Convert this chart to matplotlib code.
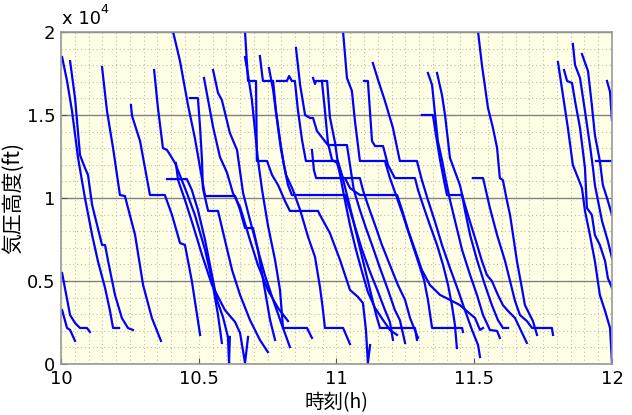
import matplotlib
matplotlib.use('Agg')
import matplotlib.pyplot as plt
from matplotlib.ticker import MultipleLocator

plt.rcParams['font.family'] = ['Noto Sans CJK JP', 'DejaVu Sans']

# descent profiles, time in hours, pressure altitude in ft
t_a1 = [10.004, 10.022, 10.040, 10.062, 10.087, 10.113, 10.134, 10.160, 10.178, 10.189, 10.211]
alt_a1 = [18490, 17050, 15240, 12410, 10000, 7770, 6200, 4580, 3190, 2170, 2170]
t_a2 = [10.033, 10.051, 10.069, 10.087, 10.098, 10.113, 10.149, 10.160, 10.171, 10.196, 10.221, 10.243, 10.261]
alt_a2 = [18250, 16020, 12590, 11810, 11390, 9580, 7170, 7170, 6200, 4160, 2770, 2170, 2050]
t_a3 = [10.149, 10.167, 10.189, 10.214, 10.232, 10.269, 10.298, 10.330, 10.363]
alt_a3 = [17890, 15240, 13010, 10180, 10120, 7770, 4760, 2770, 1390]
t_a4 = [10.254, 10.258, 10.287, 10.323, 10.377, 10.403, 10.432, 10.450, 10.475, 10.505]
alt_a4 = [15600, 14940, 13430, 10180, 10180, 8980, 7290, 7170, 5000, 1750]
t_a5 = [10.004, 10.033, 10.051, 10.069, 10.094, 10.105]
alt_a5 = [5480, 2950, 2470, 2170, 2170, 1930]
t_a6 = [10.004, 10.022, 10.033, 10.051]
alt_a6 = [3250, 2170, 2050, 1390]
t_a7 = [10.338, 10.352, 10.370, 10.385, 10.414, 10.457, 10.486, 10.523, 10.548, 10.570, 10.584]
alt_a7 = [17710, 15420, 13010, 12890, 12110, 10300, 8980, 6870, 5060, 2950, 1270]
t_a8 = [10.407, 10.432, 10.461, 10.486, 10.505, 10.523, 10.632, 10.650, 10.668, 10.697, 10.715, 10.740, 10.759, 10.777]
alt_a8 = [20000, 18250, 15600, 13610, 11810, 10120, 10120, 9280, 8190, 8190, 6870, 4460, 2650, 1450]
t_a9 = [10.468, 10.497, 10.505, 10.512, 10.515, 10.534, 10.570, 10.595, 10.621, 10.650, 10.686, 10.722, 10.751]
alt_a9 = [16020, 16020, 14220, 12230, 10600, 9220, 9220, 7470, 5660, 4160, 2650, 1450, 720]
t_a10 = [10.519, 10.534, 10.552, 10.577, 10.603, 10.624, 10.650, 10.686, 10.715, 10.751, 10.788, 10.824]
alt_a10 = [17230, 15900, 14280, 12470, 11510, 10300, 9460, 7470, 5960, 4460, 3370, 2590]
t_a11 = [10.552, 10.570, 10.584, 10.613, 10.639, 10.661, 10.686, 10.715, 10.740, 10.770, 10.802, 10.831]
alt_a11 = [17710, 16330, 15900, 13920, 12890, 10300, 8670, 6870, 5360, 3860, 2350, 1020]
t_a12 = [10.417, 10.425, 10.450, 10.479, 10.512, 10.548, 10.595, 10.632, 10.650, 10.668, 10.679]
alt_a12 = [12110, 11080, 9880, 8370, 6570, 4760, 3250, 2530, 1870, 60, 1630]
t_a13 = [10.385, 10.457, 10.475, 10.497, 10.523, 10.548, 10.566, 10.588, 10.606, 10.610, 10.613]
alt_a13 = [11140, 11140, 10480, 9280, 7470, 5360, 3860, 2830, 1630, 60, 1630]

t_b1 = [10.668, 10.679, 10.708, 10.711, 10.748, 10.766, 10.788, 10.813, 10.831, 10.933, 10.940, 10.976,
        11.013, 11.049, 11.078, 11.096, 11.107, 11.114, 11.122]
alt_b1 = [20000, 17050, 17050, 12230, 12230, 11390, 10780, 9820, 9220, 9220, 8980, 7890,
          6260, 4460, 4040, 3670, 2050, 60, 1140]
t_b2 = [10.668, 10.679, 10.693, 10.704, 10.715, 10.730, 10.751, 10.777, 10.795, 10.806, 10.893, 10.911]
alt_b2 = [18490, 17410, 15900, 14100, 12290, 10480, 8370, 6270, 4460, 2170, 2170, 1570]
t_b3 = [10.722, 10.733, 10.770, 10.780, 10.795, 10.809, 10.824, 10.838, 11.031, 11.049, 11.071, 11.093,
        11.122, 11.151, 11.176, 11.194, 11.205]
alt_b3 = [18550, 17050, 17050, 15300, 13490, 11990, 10780, 10180, 10180, 9280, 8070, 6870,
          5540, 4340, 3250, 2530, 1450]
t_b4 = [10.755, 10.770, 10.784, 10.799, 10.817, 10.842, 10.868, 10.897, 10.922, 10.940, 10.951, 10.958,
        11.024, 11.049]
alt_b4 = [17830, 16510, 14700, 12890, 11390, 10480, 9280, 7650, 6450, 4640, 3250, 2170, 2170, 1200]
t_b5 = [10.784, 10.820, 10.828, 10.838, 10.849, 10.860, 10.875, 10.889, 11.005, 11.020, 11.038, 11.056,
        11.078, 11.100, 11.122, 11.144, 11.158, 11.285, 11.292]
alt_b5 = [17050, 17050, 17350, 17050, 17050, 15300, 13490, 12230, 12230, 11390, 10180, 8980,
          7470, 5960, 4460, 2950, 2170, 2170, 1450]
t_b6 = [10.853, 10.868, 10.886, 10.904, 10.915, 10.929, 10.969, 11.038, 11.049, 11.063, 11.085, 11.107,
        11.129, 11.158, 11.187, 11.212, 11.230, 11.249]
alt_b6 = [19040, 16810, 15000, 14820, 14820, 14040, 13190, 13190, 11990, 10480, 9280, 8190,
          7170, 5780, 4460, 3250, 2650, 1270]
t_b7 = [10.915, 10.922, 10.926, 10.966, 10.976, 10.995, 11.005, 11.020, 11.034, 11.049, 11.071, 11.093,
        11.114, 11.140, 11.169, 11.194, 11.220]
alt_b7 = [17230, 16870, 17050, 17050, 14880, 13310, 12110, 10780, 9580, 8370, 6870, 5540,
          4340, 3370, 2650, 2050, 1750]
t_b8 = [10.947, 10.958, 10.969, 10.984, 11.002, 11.013, 11.024, 11.085, 11.096, 11.114, 11.140, 11.165,
        11.194, 11.223, 11.249, 11.267, 11.296]
alt_b8 = [17050, 15300, 13310, 12290, 12110, 11510, 11200, 11200, 10480, 9580, 8370, 7170,
          5960, 4760, 3860, 2770, 1570]
t_b9 = [11.024, 11.038, 11.056, 11.067, 11.085, 11.176, 11.194, 11.216, 11.241, 11.267, 11.292, 11.318,
        11.332, 11.347, 11.401, 11.456, 11.459]
alt_b9 = [20000, 17230, 16450, 14640, 12230, 12230, 11200, 10180, 8980, 7650, 6390, 5060,
          3860, 2170, 2170, 2170, 1930]
t_b10 = [11.100, 11.114, 11.129, 11.140, 11.169, 11.187, 11.212, 11.285, 11.296, 11.314, 11.339, 11.365,
         11.387, 11.405, 11.419, 11.430, 11.437]
alt_b10 = [17050, 17050, 13430, 13130, 13130, 11990, 11200, 11200, 10480, 9580, 8370, 7170,
           5960, 4760, 3550, 2350, 960]
t_b11 = [11.132, 11.151, 11.176, 11.205, 11.230, 11.292, 11.310, 11.332, 11.358, 11.383, 11.412, 11.441,
         11.466, 11.492, 11.514, 11.521]
alt_b11 = [18130, 17110, 15840, 14220, 12230, 12230, 11080, 9880, 8550, 7170, 5780, 4460,
           3250, 2050, 1140, 420]
t_b12 = [10.911, 10.918, 10.926, 11.031, 11.049, 11.085, 11.111, 11.220, 11.238, 11.260, 11.285, 11.310,
         11.339, 11.376, 11.412, 11.448, 11.477, 11.503, 11.521, 11.532]
alt_b12 = [12890, 11690, 11200, 11200, 10600, 10180, 10180, 10180, 9280, 8070, 6870, 5660,
           4760, 4160, 3860, 3550, 3130, 2770, 2050, 2170]

t_c1 = [11.310, 11.350, 11.361, 11.376, 11.390, 11.401, 11.456, 11.466, 11.485, 11.510, 11.539, 11.564,
        11.586, 11.604, 11.623]
alt_c1 = [15000, 15000, 13800, 12290, 11080, 10180, 10180, 9280, 7770, 6270, 4760, 3550, 2650, 2170, 2170]
t_c2 = [11.332, 11.347, 11.358, 11.368, 11.383, 11.397, 11.412, 11.434, 11.456, 11.485, 11.510, 11.532,
        11.557, 11.583, 11.593]
alt_c2 = [17530, 16810, 15000, 13430, 12290, 11080, 9880, 8370, 6870, 5360, 4160, 2950, 2050, 1990, 1570]
t_c3 = [11.365, 11.383, 11.394, 11.412, 11.448, 11.459, 11.477, 11.503, 11.528, 11.546, 11.564, 11.586,
        11.604, 11.623, 11.648, 11.691]
alt_c3 = [17530, 16200, 15000, 12410, 10780, 10000, 8980, 7590, 6200, 5360, 5000, 4160,
          3550, 3190, 2770, 1270]
t_c4 = [11.514, 11.528, 11.550, 11.568, 11.583, 11.593, 11.604, 11.619, 11.630, 11.641, 11.655, 11.673,
        11.684, 11.713, 11.728]
alt_c4 = [20000, 18010, 15420, 14220, 13010, 11200, 11080, 9820, 8980, 7770, 6200, 4580, 3550, 2590, 1750]
t_c5 = [11.495, 11.532, 11.557, 11.583, 11.612, 11.630, 11.648, 11.666, 11.691, 11.710, 11.782, 11.786]
alt_c5 = [11200, 11200, 9400, 7770, 6200, 5000, 3800, 2950, 2590, 2170, 2170, 1750]

t_d1 = [11.804, 11.822, 11.840, 11.858, 11.877, 11.891, 11.902, 11.920, 11.938, 11.956, 11.975, 11.993, 12.0]
alt_d1 = [18190, 16200, 14220, 11990, 11200, 10600, 9220, 7770, 6200, 4160, 3190, 2170, 60]
t_d2 = [11.826, 11.837, 11.855, 11.866, 11.884, 11.902, 11.909, 11.927, 11.938, 11.956, 11.975, 11.985, 12.0]
alt_d2 = [17710, 17050, 16930, 15840, 14220, 11810, 9400, 8980, 7770, 7170, 6200, 5180, 4580]
t_d3 = [11.858, 11.866, 11.884, 11.902, 11.920, 11.931, 11.938, 11.964, 11.985, 12.0]
alt_d3 = [19280, 18010, 17230, 15240, 13190, 11810, 10780, 8610, 7410, 6390]
t_d4 = [11.891, 11.913, 11.927, 11.938, 11.956, 11.967, 11.982, 12.0]
alt_d4 = [18670, 17650, 15600, 13800, 12230, 10780, 10000, 8980]
t_d5 = [11.942, 12.0]
alt_d5 = [12230, 12230]
t_d6 = [11.982, 11.993, 12.0]
alt_d6 = [17050, 16390, 14700]

flights = [
    (t_a1, alt_a1), (t_a2, alt_a2), (t_a3, alt_a3), (t_a4, alt_a4), (t_a5, alt_a5),
    (t_a6, alt_a6), (t_a7, alt_a7), (t_a8, alt_a8), (t_a9, alt_a9), (t_a10, alt_a10),
    (t_a11, alt_a11), (t_a12, alt_a12), (t_a13, alt_a13),
    (t_b1, alt_b1), (t_b2, alt_b2), (t_b3, alt_b3), (t_b4, alt_b4), (t_b5, alt_b5),
    (t_b6, alt_b6), (t_b7, alt_b7), (t_b8, alt_b8), (t_b9, alt_b9), (t_b10, alt_b10),
    (t_b11, alt_b11), (t_b12, alt_b12),
    (t_c1, alt_c1), (t_c2, alt_c2), (t_c3, alt_c3), (t_c4, alt_c4), (t_c5, alt_c5),
    (t_d1, alt_d1), (t_d2, alt_d2), (t_d3, alt_d3), (t_d4, alt_d4), (t_d5, alt_d5), (t_d6, alt_d6),
]

x_ticks = [10, 10.5, 11, 11.5, 12]
x_labels = ['10', '10.5', '11', '11.5', '12']
y_ticks = [0, 5000, 10000, 15000, 20000]
y_labels = ['0', '0.5', '1', '1.5', '2']

fig = plt.figure(figsize=(6.32, 4.15), dpi=100)
ax = fig.add_axes([0.0965, 0.1229, 0.8718, 0.8000])
ax.set_facecolor('#ffffe6')

for t, alt in flights:
    ax.plot(t, alt, color='#0000ff', lw=1.6, solid_joinstyle='round')

ax.set_xlim(10, 12)
ax.set_ylim(0, 20000)
ax.set_xticks(x_ticks)
ax.set_xticklabels(x_labels, family='DejaVu Sans')
ax.set_yticks(y_ticks)
ax.set_yticklabels(y_labels, family='DejaVu Sans')
ax.xaxis.set_minor_locator(MultipleLocator(0.05))
ax.yaxis.set_minor_locator(MultipleLocator(1000))

# dotted minor grid, solid horizontal major lines
ax.grid(which='minor', axis='both', color='#bcbcb0', ls=(0, (1, 2.5)), lw=0.8)
ax.grid(which='major', axis='x', color='#bcbcb0', ls=(0, (1, 2.5)), lw=0.8)
ax.grid(which='major', axis='y', color='#808080', ls='-', lw=1.0)
ax.set_axisbelow(True)

ax.tick_params(which='major', direction='in', length=4, labelsize=13, pad=4, color='#555555')
ax.tick_params(which='minor', length=0)
for side in ['top', 'right', 'left', 'bottom']:
    ax.spines[side].set_color('#999999')
    ax.spines[side].set_linewidth(1.2)

ax.set_xlabel('時刻(h)', fontsize=14, labelpad=3)
ax.set_ylabel('気圧高度(ft)', fontsize=15, labelpad=2)

ax.text(0.002, 1.012, 'x 10', transform=ax.transAxes, fontsize=13, va='bottom', ha='left',
        family='DejaVu Sans')
ax.text(0.072, 1.048, '4', transform=ax.transAxes, fontsize=9, va='bottom', ha='left',
        family='DejaVu Sans')

fig.savefig('out.png', dpi=100)
